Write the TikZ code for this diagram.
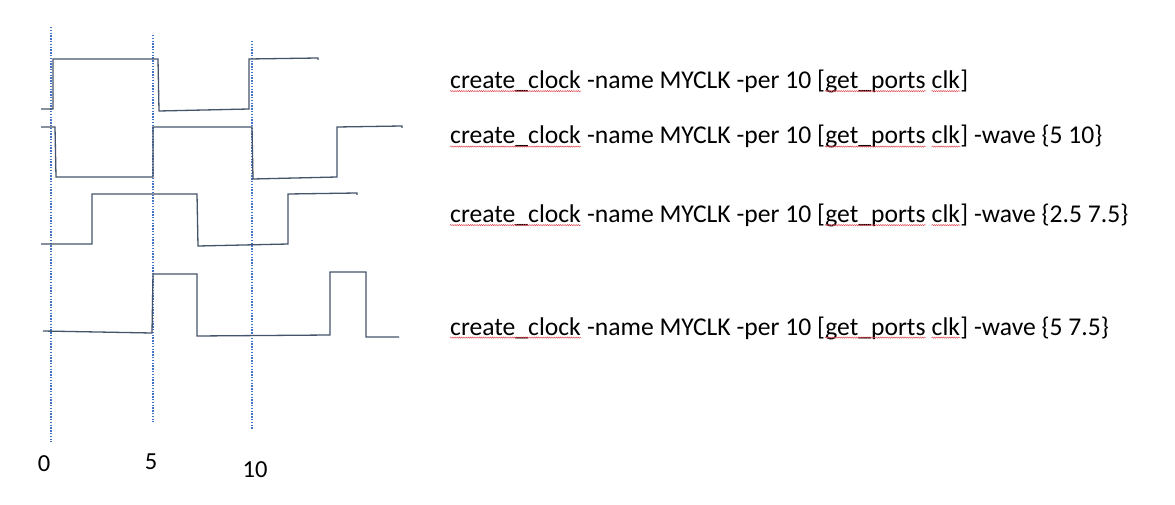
\documentclass[tikz,border=0pt]{standalone}
\usepackage{fontspec}
\setmainfont{Carlito}
\usetikzlibrary{decorations.pathmorphing}
\definecolor{wavec}{HTML}{44546A}
\definecolor{gridc}{HTML}{4472C4}
\definecolor{spellc}{HTML}{E0404A}
\newcommand\cmdline[3]{%
  \node[cmd] (#1a) at (450,#2) {create\_clock};
  \node[cmd] (#1b) at (#1a.base east) {\ -name MYCLK -per 10 [};
  \node[cmd] (#1c) at (#1b.base east) {get\_ports};
  \node[cmd] (#1d) at (#1c.base east) {\ clk};
  \node[cmd] (#1e) at (#1d.base east) {]#3};
  \draw[spell] ([yshift=-2.6pt]#1a.base west) -- ([yshift=-2.6pt]#1a.base east);
  \draw[spell] ([yshift=-2.6pt]#1c.base west) -- ([yshift=-2.6pt]#1c.base east);
  \draw[spell] ([yshift=-2.6pt,xshift=5.8pt]#1d.base west) -- ([yshift=-2.6pt]#1d.base east);
}
\begin{document}
\begin{tikzpicture}[x=1pt,y=-1pt,
  sig/.style={draw=wavec,line width=1.3pt,line join=miter},
  grid/.style={draw=gridc,line width=1.5pt,dash pattern=on 1.4pt off 1.4pt},
  cmd/.style={anchor=base west,inner sep=0pt,font=\fontsize{25.6}{30}\selectfont},
  spell/.style={draw=spellc,line width=0.45pt,decorate,decoration={snake,amplitude=0.6pt,segment length=2.2pt}},
  tick/.style={anchor=base,inner sep=0pt,font=\fontsize{24.5}{28}\selectfont}]
\useasboundingbox[fill=white] (0,0) rectangle (1175,505);
% grid lines
\draw[grid] (51,27) -- (51,442);
\draw[grid] (153,35) -- (153,422);
\draw[grid] (252,41) -- (252,430);
% tick labels
\node[tick] (t0) at (44,471) {0};
\node[tick] (t5) at (151,469) {5};
\node[tick] (t10) at (255,477) {10};
% waveforms
\draw[sig] (41,109) -- (53,109) -- (53,59) -- (158,59) -- (159,111) -- (249,109) -- (249,59) -- (318,58) -- (318,60);
\draw[sig] (41,127) -- (55,127) -- (56,177) -- (153,177) -- (153,127) -- (252,127) -- (253,179) -- (337,177) -- (337,127) -- (402,126) -- (402,128);
\draw[sig] (41,244) -- (92,244) -- (92,194) -- (197,194) -- (198,246) -- (288,244) -- (288,194) -- (357,193) -- (357,195);
\draw[sig] (43,331) -- (152,333) -- (153,274) -- (197,274) -- (197,336) -- (330,335) -- (330,272) -- (366,272) -- (366,337) -- (399,337);
% commands
\cmdline{c1}{88.5}{}
\cmdline{c2}{144}{ -wave \{5 10\}}
\cmdline{c3}{222.5}{ -wave \{2.5 7.5\}}
\cmdline{c4}{335}{ -wave \{5 7.5\}}
\end{tikzpicture}
\end{document}
